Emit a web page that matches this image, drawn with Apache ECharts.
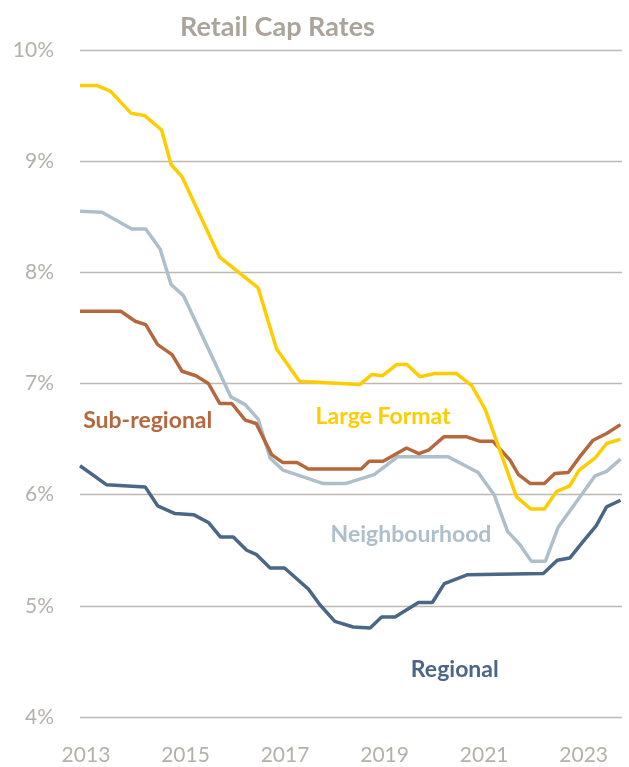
<!DOCTYPE html>
<html>
<head>
<meta charset="utf-8">
<script src="https://cdn.jsdelivr.net/npm/echarts@6/dist/echarts.min.js"></script>
<style>
  html, body { margin: 0; padding: 0; background: #fff; }
  #chart { width: 629px; height: 767px; }
</style>
</head>
<body>
<div id="chart"></div>
<script>
// year ticks shown on the x axis
const yearTicks = [2013, 2015, 2017, 2019, 2021, 2023]

// [year, cap rate %]
const largeFormat = [
  [2012.88, 9.68], [2013.22, 9.68], [2013.49, 9.63], [2013.91, 9.43], [2014.18, 9.41],
  [2014.52, 9.28], [2014.71, 8.97], [2014.93, 8.86], [2015.68, 8.14], [2016.46, 7.86],
  [2016.83, 7.31], [2017.29, 7.02], [2018.50, 6.99], [2018.74, 7.08], [2018.96, 7.07],
  [2019.24, 7.17], [2019.45, 7.17], [2019.71, 7.06], [2020.01, 7.09], [2020.44, 7.09],
  [2020.75, 6.98], [2021.02, 6.77], [2021.65, 5.98], [2021.94, 5.87], [2022.21, 5.87],
  [2022.46, 6.03], [2022.72, 6.08], [2022.91, 6.22], [2023.23, 6.33], [2023.46, 6.46],
  [2023.74, 6.50]
]

const neighbourhood = [
  [2012.88, 8.55], [2013.32, 8.54], [2013.92, 8.39], [2014.20, 8.39], [2014.49, 8.21],
  [2014.71, 7.89], [2014.96, 7.79], [2015.91, 6.88], [2016.20, 6.81], [2016.46, 6.68],
  [2016.70, 6.33], [2016.96, 6.22], [2017.77, 6.10], [2018.21, 6.10], [2018.79, 6.18],
  [2019.26, 6.34], [2020.28, 6.34], [2020.88, 6.20], [2021.20, 6.00], [2021.47, 5.67],
  [2021.72, 5.55], [2021.95, 5.40], [2022.23, 5.40], [2022.49, 5.71], [2023.23, 6.17],
  [2023.46, 6.21], [2023.74, 6.32]
]

const subRegional = [
  [2012.88, 7.65], [2013.70, 7.65], [2013.99, 7.56], [2014.20, 7.53], [2014.44, 7.35],
  [2014.73, 7.26], [2014.93, 7.11], [2015.21, 7.07], [2015.46, 7.00], [2015.69, 6.82],
  [2015.93, 6.82], [2016.20, 6.67], [2016.42, 6.64], [2016.73, 6.36], [2016.95, 6.29],
  [2017.24, 6.29], [2017.47, 6.23], [2018.53, 6.23], [2018.69, 6.30], [2018.97, 6.30],
  [2019.44, 6.42], [2019.69, 6.37], [2019.88, 6.40], [2020.19, 6.52], [2020.65, 6.52],
  [2020.92, 6.48], [2021.18, 6.48], [2021.52, 6.31], [2021.69, 6.18], [2021.93, 6.10],
  [2022.21, 6.10], [2022.42, 6.19], [2022.69, 6.20], [2022.92, 6.34], [2023.19, 6.49],
  [2023.46, 6.55], [2023.74, 6.63]
]

const regional = [
  [2012.88, 6.26], [2013.41, 6.09], [2014.19, 6.07], [2014.44, 5.90], [2014.79, 5.83],
  [2015.16, 5.82], [2015.46, 5.75], [2015.70, 5.62], [2015.96, 5.62], [2016.23, 5.50],
  [2016.43, 5.46], [2016.70, 5.34], [2016.99, 5.34], [2017.47, 5.15], [2017.70, 5.01],
  [2018.00, 4.86], [2018.37, 4.81], [2018.71, 4.80], [2018.94, 4.90], [2019.21, 4.90],
  [2019.68, 5.03], [2019.96, 5.03], [2020.20, 5.20], [2020.67, 5.28], [2022.19, 5.29],
  [2022.47, 5.41], [2022.72, 5.43], [2022.99, 5.58], [2023.25, 5.72], [2023.46, 5.89],
  [2023.74, 5.95]
]

// name, data, colour, where the in-chart label sits [year, rate]
const seriesList = [
  {name: 'Regional', data: regional, color: '#4a6785', at: [2020.41, 4.43]},
  {name: 'Neighbourhood', data: neighbourhood, color: '#adbfcb', at: [2019.53, 5.64]},
  {name: 'Sub-regional', data: subRegional, color: '#b5673d', at: [2014.24, 6.67]},
  {name: 'Large Format', data: largeFormat, color: '#ffcc00', at: [2018.97, 6.70]}
]

const gray = '#b5b0a8'
const font = 'Lato, "Open Sans", sans-serif'

const chart = echarts.init(document.getElementById('chart'), null, {renderer: 'canvas'})

const option = {
  animation: false,
  backgroundColor: '#fff',
  title: {
    text: 'Retail Cap Rates',
    left: 175,
    top: 9,
    textStyle: {
      color: '#aaa49b',
      fontFamily: font,
      fontWeight: 'bold',
      fontSize: 27
    }
  },
  grid: {
    left: 80,
    right: 7,
    top: 50,
    bottom: 50,
    containLabel: false
  },
  xAxis: {
    type: 'value',
    min: 2012.88,
    max: 2023.77,
    axisLine: {show: false},
    axisTick: {show: false},
    splitLine: {show: false},
    axisLabel: {
      customValues: yearTicks,
      margin: 28,
      color: gray,
      fontFamily: font,
      fontSize: 21,
      formatter: v => String(v)
    }
  },
  yAxis: {
    type: 'value',
    min: 4,
    max: 10,
    interval: 1,
    axisLine: {show: false},
    axisTick: {show: false},
    splitLine: {
      lineStyle: {color: '#bdb9b1', width: 1.3}
    },
    axisLabel: {
      margin: 26,
      color: gray,
      fontFamily: font,
      fontSize: 21,
      formatter: '{value}%'
    }
  },
  series: seriesList.map(s => ({
    name: s.name,
    type: 'line',
    data: s.data,
    showSymbol: false,
    symbol: 'none',
    lineStyle: {color: s.color, width: 3.5},
    itemStyle: {color: s.color},
    markPoint: {
      symbol: 'circle',
      symbolSize: 0,
      label: {
        show: true,
        position: 'inside',
        formatter: s.name,
        color: s.color,
        fontFamily: font,
        fontWeight: 'bold',
        fontSize: 23
      },
      data: [{coord: s.at}]
    }
  }))
}

chart.setOption(option)
</script>
</body>
</html>
